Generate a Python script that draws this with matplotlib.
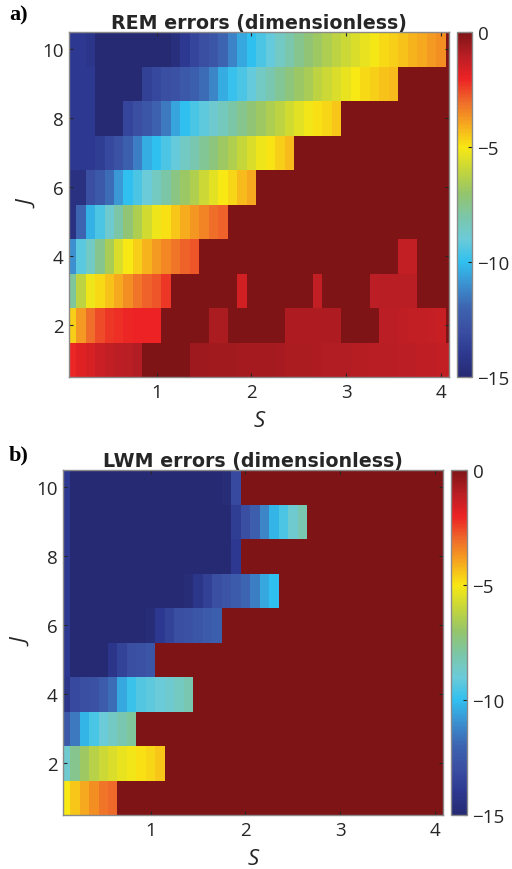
import numpy as np
import matplotlib
matplotlib.use("Agg")
import matplotlib.pyplot as plt
from matplotlib.colors import LinearSegmentedColormap

# ---- data -------------------------------------------------------------
S_values = [round(0.1 * k, 1) for k in range(1, 42)]   # 0.1 .. 4.1
J_values = list(range(1, 11))

# REM errors, one list per J (J = 1 .. 10), values at S_values
rem_J1 = [-2.1, -1.8, -1.6, -1.4, -1.2, -1.1, -1.0, -0.9, 0, 0, 0, 0, 0, -0.55, -0.55, -0.6, -0.6, -0.62, -0.65, -0.65,
          -0.7, -0.7, -0.75, -0.78, -0.8, -0.82, -0.85, -0.88, -0.9, -0.92, -0.95, -0.98, -1.0, -1.02, -1.05, -1.08, -1.1, -1.12, -1.15, -1.18, -1.2]
rem_J2 = [-4.6, -3.8, -3.1, -2.6, -2.3, -2.2, -2.1, -2.0, -2.0, -2.0, 0, 0, 0, 0, 0, -0.8, -0.8, 0, 0, 0,
          0, 0, 0, -0.85, -0.85, -0.85, -0.85, -0.85, -0.85, 0, 0, 0, 0, -1.1, -1.1, -1.15, -1.2, -1.2, -1.25, -1.3, 0]
rem_J3 = [-7.8, -6.2, -5.2, -4.8, -4.4, -4.0, -3.6, -3.2, -2.9, -2.7, -2.3, 0, 0, 0, 0, 0, 0, 0, -1.5, 0,
          0, 0, 0, 0, 0, 0, -1.2, 0, 0, 0, 0, 0, -1.1, -1.0, -1.0, -1.0, -1.0, 0, 0, 0, 0]
rem_J4 = [-11.0, -9.3, -8.6, -7.6, -6.6, -5.6, -5.0, -4.6, -4.2, -3.8, -3.5, -3.2, -2.9, -2.7, 0, 0, 0, 0, 0, 0,
          0, 0, 0, 0, 0, 0, 0, 0, 0, 0, 0, 0, 0, 0, 0, -1.2, -1.2, 0, 0, 0, 0]
rem_J5 = [-14.5, -12.0, -10.3, -9.5, -8.8, -8.0, -7.2, -6.5, -5.8, -5.2, -4.9, -4.5, -4.1, -3.7, -3.4, -3.1, -2.9, 0, 0, 0,
          0, 0, 0, 0, 0, 0, 0, 0, 0, 0, 0, 0, 0, 0, 0, 0, 0, 0, 0, 0, 0]
rem_J6 = [-14.5, -14.5, -13.0, -12.5, -11.8, -10.8, -10.0, -9.5, -9.0, -8.5, -8.0, -7.4, -6.9, -6.4, -5.9, -5.4, -5.0, -4.7, -4.3, -4.0,
          0, 0, 0, 0, 0, 0, 0, 0, 0, 0, 0, 0, 0, 0, 0, 0, 0, 0, 0, 0, 0]
rem_J7 = [-14.0, -14.0, -14.0, -13.8, -13.2, -12.8, -12.2, -11.4, -10.4, -10.0, -9.5, -9.1, -8.6, -8.2, -7.7, -7.3, -6.8, -6.4, -6.0, -5.6,
          -5.2, -4.95, -4.6, -4.3, 0, 0, 0, 0, 0, 0, 0, 0, 0, 0, 0, 0, 0, 0, 0, 0, 0]
rem_J8 = [-14.0, -14.0, -14.0, -15.5, -15.5, -15.5, -13.4, -13.0, -12.6, -12.1, -11.5, -10.6, -10.0, -9.6, -9.2, -8.8, -8.4, -8.0, -7.6, -7.2,
          -6.8, -6.5, -6.2, -5.8, -5.4, -5.1, -4.9, -4.7, -4.5, 0, 0, 0, 0, 0, 0, 0, 0, 0, 0, 0, 0]
rem_J9 = [-14.0, -14.0, -14.0, -15.5, -15.5, -15.5, -15.5, -15.5, -13.6, -13.3, -13.0, -12.8, -12.5, -12.2, -11.8, -11.2, -10.4, -9.9, -9.5, -9.1,
          -8.6, -8.2, -7.7, -7.3, -6.9, -6.6, -6.2, -5.9, -5.6, -5.3, -5.0, -4.8, -4.6, -4.45, -4.3, 0, 0, 0, 0, 0, 0]
rem_J10 = [-14.0, -14.0, -14.2, -15.5, -15.5, -15.5, -15.5, -15.5, -15.5, -15.2, -15.0, -14.6, -14.0, -13.4, -13.0, -12.6, -12.0, -11.3, -10.5, -10.0,
           -9.5, -9.1, -8.6, -8.1, -7.6, -7.2, -6.8, -6.5, -6.2, -5.9, -5.6, -5.3, -5.05, -4.8, -4.6, -4.4, -4.2, -4.0, -3.8, -3.6, 0]

# LWM errors, one list per J (J = 1 .. 10)
lwm_J1 = [-5.0, -4.5, -4.0, -3.6, -3.2, -3.0] + [0] * 35
lwm_J2 = [-8.8, -7.6, -6.8, -6.3, -5.9, -5.6, -5.3, -5.1, -4.9, -4.7, -4.5] + [0] * 30
lwm_J3 = [-12.5, -11.5, -10.2, -9.6, -9.0, -8.6, -8.2, -7.8] + [0] * 33
lwm_J4 = [-14.2, -13.2, -13.0, -12.8, -12.4, -11.8, -10.5, -9.8, -9.4, -9.2, -9.0, -8.8, -8.5, -8.2] + [0] * 27
lwm_J5 = [-14.0, -15.5, -15.5, -15.5, -15.5, -14.2, -13.5, -13.0, -12.8, -12.6] + [0] * 31
lwm_J6 = [-14.0, -15.5, -15.5, -15.5, -15.5, -15.5, -15.5, -15.5, -15.5, -14.8, -14.0, -13.5, -13.0, -12.8, -12.6, -12.4, -12.2] + [0] * 24
lwm_J7 = [-14.0] + [-15.5] * 12 + [-14.8, -14.2, -13.6, -13.0, -12.7, -12.4, -12.0, -11.4, -10.5, -10.0] + [0] * 18
lwm_J8 = [-14.0] + [-15.5] * 17 + [-14.0] + [0] * 22
lwm_J9 = [-14.0] + [-15.5] * 17 + [-13.8, -13.0, -12.3, -11.2, -10.2, -9.5, -8.8, -8.2] + [0] * 15
lwm_J10 = [-14.0] + [-15.5] * 16 + [-14.8, -13.2] + [0] * 22

rem_rows = [rem_J1, rem_J2, rem_J3, rem_J4, rem_J5, rem_J6, rem_J7, rem_J8, rem_J9, rem_J10]
lwm_rows = [lwm_J1, lwm_J2, lwm_J3, lwm_J4, lwm_J5, lwm_J6, lwm_J7, lwm_J8, lwm_J9, lwm_J10]

x_ticks = [1, 2, 3, 4]
y_ticks = [2, 4, 6, 8, 10]
cbar_ticks = [0, -5, -10, -15]
cbar_labels = ["0", "\u22125", "\u221210", "\u221215"]

# ---- colormap ---------------------------------------------------------
stops = ["#262a72", "#2d3990", "#3a4ea2", "#3d64b0", "#3c90d0", "#30c0ef",
         "#6ccbd8", "#7cc6a8", "#95c56a", "#c5d63a", "#f8e814", "#f6a81e",
         "#ef6a2a", "#ec2224", "#b81e24", "#7f1416"]
cmap = LinearSegmentedColormap.from_list("errmap", stops, N=256)

plt.rcParams['font.family'] = ['Open Sans', 'DejaVu Sans']

fig = plt.figure(figsize=(5.12, 8.7), dpi=100)

W, H = 512.0, 870.0
def rect(l, t, r, b):
    return [l / W, 1 - b / H, (r - l) / W, (b - t) / H]

panels = [
    (rem_rows, "REM errors (dimensionless)", "a)", rect(69, 33, 449, 378), rect(457, 33, 472, 378), (9, 15)),
    (lwm_rows, "LWM errors (dimensionless)", "b)", rect(63, 471, 443, 816), rect(451, 471, 467, 816), (9, 455)),
]

edge = "#8a8a8a"
txt = '#262626'
for rows, title, tag, axr, cbr, tagpos in panels:
    ax = fig.add_axes(axr)
    Z = np.array(rows, dtype=float)
    mesh = ax.pcolormesh(np.array(S_values), np.array(J_values), Z, shading='nearest',
                         cmap=cmap, vmin=-15, vmax=0, rasterized=True)
    ax.set_xlim(0.075, 4.085)
    ax.set_ylim(0.5, 10.5)
    ax.set_xticks(x_ticks)
    ax.set_yticks(y_ticks)
    ax.tick_params(direction='in', top=True, right=True, length=3, width=0.8,
                   labelsize=13.5, colors=txt, pad=4)
    for sp in ax.spines.values():
        sp.set_color(edge)
        sp.set_linewidth(1.0)
    ax.set_xlabel("S", fontsize=16, style='italic', color=txt, labelpad=7)
    ax.set_ylabel("J", fontsize=16, style='italic', color=txt, labelpad=1)
    ax.set_title(title, fontsize=13.7, fontweight='bold', color=txt, pad=3,
                 family='DejaVu Sans')
    fig.text(tagpos[0] / W, 1 - tagpos[1] / H, tag, fontsize=16, fontweight='bold',
             family='Liberation Serif', va='center', ha='left')

    cax = fig.add_axes(cbr)
    cb = fig.colorbar(mesh, cax=cax, ticks=cbar_ticks)
    cb.ax.set_yticklabels(cbar_labels)
    cb.ax.tick_params(direction='in', length=3, width=0.8, labelsize=13.5, colors=txt, pad=4)
    cb.outline.set_edgecolor(edge)
    cb.outline.set_linewidth(1.0)

fig.savefig("out.png", dpi=100)
